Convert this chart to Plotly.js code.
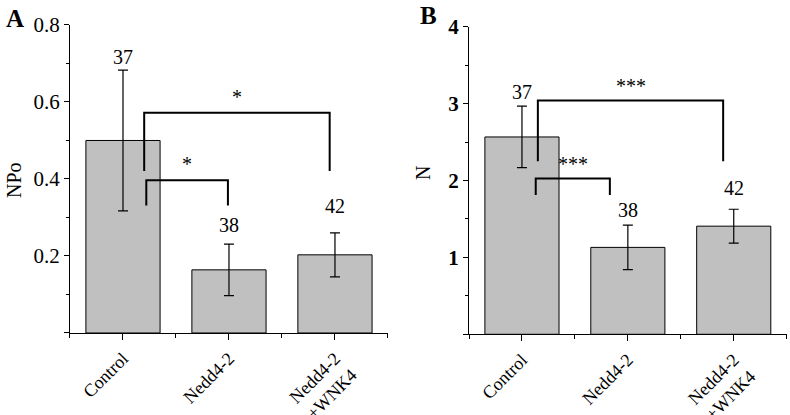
<!DOCTYPE html>
<html>
<head>
<meta charset="utf-8">
<script src="https://cdn.plot.ly/plotly-3.0.1.min.js"></script>
<style>html,body{margin:0;padding:0;background:#fff;}#chart{width:790px;height:415px;}</style>
</head>
<body>
<div id="chart"></div>
<script>
// ---- data ----
const categories = ["Control", "Nedd4-2", "Nedd4-2<br>+WNK4"];
const npoValues = [0.50, 0.164, 0.203];
const npoErrors = [0.183, 0.067, 0.057];
const nValues = [2.566, 1.13, 1.406];
const nErrors = [0.40, 0.29, 0.22];
const cellCounts = ["37", "38", "42"];
const npoCountY = [0.717, 0.280, 0.330];
const nCountY = [3.15, 1.62, 1.90];
const npoTicks = [0, 0.2, 0.4, 0.6, 0.8];
const npoTickText = ["", "0.2", "0.4", "0.6", "0.8"];
const nTicks = [0, 1, 2, 3, 4];
const nTickText = ["", "<b>1</b>", "<b>2</b>", "<b>3</b>", "<b>4</b>"];
// significance brackets
const npoBrackets = [
  {x0: 0.20, x1: 1.95, top: 0.572, bottom: 0.421, label: "*"},
  {x0: 0.22, x1: 0.99, top: 0.397, bottom: 0.331, label: "*"}
];
const nBrackets = [
  {x0: 0.15, x1: 1.90, top: 3.04, bottom: 2.25, label: "***"},
  {x0: 0.13, x1: 0.83, top: 2.026, bottom: 1.81, label: "***"}
];

const xIdx = categories.map((c, i) => i);
const serif = "Liberation Serif";
const barColor = "#c0c0c0";

function barTrace(vals, errs, xa, ya) {
  return {
    type: "bar", x: xIdx, y: vals, xaxis: xa, yaxis: ya, width: 0.7,
    marker: {color: barColor, line: {color: "#000", width: 1}},
    error_y: {type: "data", array: errs, visible: true, color: "#000", thickness: 1.2, width: 5},
    hoverinfo: "skip", showlegend: false
  };
}
function bracketTraces(br, xa, ya) {
  return br.map(b => ({
    type: "scatter", mode: "lines", xaxis: xa, yaxis: ya,
    x: [b.x0, b.x0, b.x1, b.x1], y: [b.bottom, b.top, b.top, b.bottom],
    line: {color: "#000", width: 2}, hoverinfo: "skip", showlegend: false
  }));
}
function countAnns(ys, xa, ya) {
  return cellCounts.map((t, i) => ({
    x: xIdx[i], y: ys[i], xref: xa, yref: ya, text: t, showarrow: false,
    xanchor: "center", yanchor: "middle",
    font: {family: serif, size: 20, color: "#000"}
  }));
}
function starAnns(br, xa, ya, off) {
  return br.map(b => ({
    x: (b.x0 + b.x1) / 2, y: b.top + off, xref: xa, yref: ya, text: b.label, showarrow: false,
    xanchor: "center", yanchor: "bottom",
    font: {family: serif, size: 20, color: "#000"}
  }));
}
function paperText(text, x, y, size, angle) {
  return {text: text, x: x / 790, y: 1 - y / 415, xref: "paper", yref: "paper", showarrow: false,
    xanchor: "center", yanchor: "middle", textangle: angle || 0,
    font: {family: serif, size: size, color: "#000"}};
}

const data = [
  barTrace(npoValues, npoErrors, "x", "y"),
  barTrace(nValues, nErrors, "x2", "y2"),
  ...bracketTraces(npoBrackets, "x", "y"),
  ...bracketTraces(nBrackets, "x2", "y2")
];

const xCommon = {
  range: [-0.5, 2.5], tickmode: "array", tickvals: xIdx, ticktext: categories,
  tickangle: -45, showline: true, linecolor: "#000", linewidth: 1,
  ticks: "outside", ticklen: 6, tickcolor: "#000", showgrid: false, zeroline: false,
  tickfont: {family: serif, size: 18, color: "#000"}, ticklabelstandoff: 1,
  minor: {tickmode: "linear", tick0: -0.5, dtick: 0.5, ticks: "outside", ticklen: 4, tickcolor: "#000"},
  fixedrange: true
};
const yCommon = {
  showline: true, linecolor: "#000", linewidth: 1, ticks: "outside", ticklen: 5,
  tickcolor: "#000", showgrid: false, zeroline: false, fixedrange: true,
  tickfont: {family: serif, size: 21, color: "#000"}
};

const layout = {
  width: 790, height: 415,
  margin: {l: 0, r: 0, t: 0, b: 0},
  paper_bgcolor: "#fff", plot_bgcolor: "rgba(0,0,0,0)",
  showlegend: false,
  xaxis: Object.assign({}, xCommon, {domain: [0.0886, 0.4911], anchor: "y"}),
  xaxis2: Object.assign({}, xCommon, {domain: [0.5937, 0.9958], anchor: "y2"}),
  yaxis: Object.assign({}, yCommon, {domain: [0.1976, 0.9398], anchor: "x", range: [0, 0.8],
    tickmode: "array", tickvals: npoTicks, ticktext: npoTickText,
    minor: {tickmode: "linear", tick0: 0, dtick: 0.1, ticks: "outside", ticklen: 3, tickcolor: "#000"}}),
  yaxis2: Object.assign({}, yCommon, {domain: [0.1945, 0.9357], anchor: "x2", range: [0, 4],
    tickmode: "array", tickvals: nTicks, ticktext: nTickText,
    minor: {tickmode: "linear", tick0: 0, dtick: 0.5, ticks: "outside", ticklen: 3, tickcolor: "#000"}}),
  annotations: [
    ...countAnns(npoCountY, "x", "y"),
    ...countAnns(nCountY, "x2", "y2"),
    ...starAnns(npoBrackets, "x", "y", 0.008),
    ...starAnns(nBrackets, "x2", "y2", 0.02),
    paperText("<b>A</b>", 15, 19, 25),
    paperText("<b>B</b>", 428, 15, 25),
    paperText("NPo", 14, 180, 20, -90),
    paperText("N", 423, 173, 20, -90)
  ]
};

Plotly.newPlot("chart", data, layout, {staticPlot: true, displayModeBar: false});
</script>
</body>
</html>
